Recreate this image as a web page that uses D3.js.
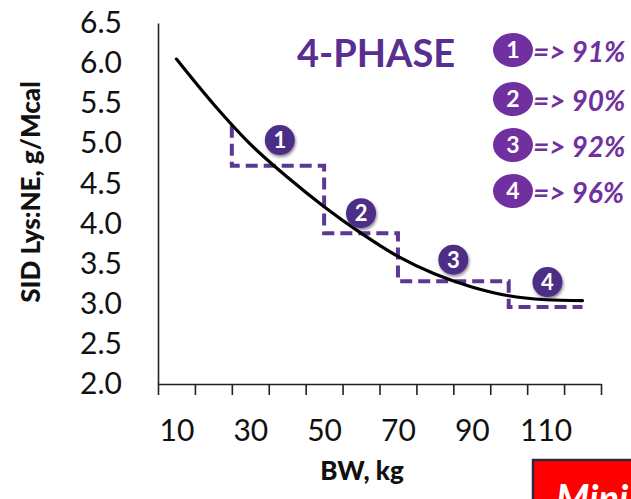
<!DOCTYPE html>
<html>
<head>
<meta charset="utf-8">
<script src="https://cdn.jsdelivr.net/npm/d3@7"></script>
<style>
  body { margin: 0; background: #fff; }
  svg { display: block; font-family: Lato, "Open Sans", sans-serif; }
</style>
</head>
<body>
<div id="plot"></div>
<script>
// body weight (kg) and SID Lys:NE requirement curve
const bwKg = [10, 20, 30, 40, 50, 60, 70, 80, 90, 100, 110, 120];
const sidLys = [6.05, 5.49, 4.99, 4.58, 4.21, 3.88, 3.59, 3.37, 3.21, 3.10, 3.05, 3.04];

// 4-phase feeding program
const phaseStart = [25, 50, 70, 100];
const phaseEnd = [50, 70, 100, 120];
const phaseLevel = [4.72, 3.88, 3.28, 2.96];
const stepTop = 5.22;
const phaseBadgeX = [38, 60, 85, 110.5];
const phaseBadgeY = [5.04, 4.13, 3.55, 3.27];
const phaseEfficiency = [91, 90, 92, 96];

// axes
const xTicks = [5, 15, 25, 35, 45, 55, 65, 75, 85, 95, 105, 115, 125];
const xLabels = [10, 30, 50, 70, 90, 110];
const yTicks = [2.0, 2.5, 3.0, 3.5, 4.0, 4.5, 5.0, 5.5, 6.0, 6.5];

const W = 631, H = 499;
const purple = '#7030a0';
const darkPurple = '#4e2f86';
const dashPurple = '#5b3891';

const svg = d3.select('#plot')
    .append('svg')
    .attr('width', W)
    .attr('height', H);

const defs = svg.append('defs');
const shadow = defs.append('filter').attr('id', 'shadow')
    .attr('x', '-50%').attr('y', '-50%').attr('width', '200%').attr('height', '200%');
shadow.append('feDropShadow')
    .attr('dx', 1).attr('dy', 2).attr('stdDeviation', 1.5)
    .attr('flood-color', '#000').attr('flood-opacity', 0.45);

const x = d3.scaleLinear().domain([5, 125]).range([158, 601]);
const y = d3.scaleLinear().domain([2, 6.5]).range([384, 23]);

// x axis: ticks only, labels in between
svg.append('g')
    .attr('transform', `translate(0, ${y(2)})`)
    .call(d3.axisBottom(x).tickValues(xTicks).tickSize(11).tickSizeOuter(0).tickFormat(''))
    .call(g => g.select('.domain').attr('stroke', '#222').attr('stroke-width', 1.6))
    .call(g => g.selectAll('.tick line').attr('stroke', '#222').attr('stroke-width', 1.6));

svg.append('g')
    .attr('transform', `translate(0, ${y(2)})`)
    .call(d3.axisBottom(x).tickValues(xLabels).tickSize(0).tickPadding(36).tickFormat(d3.format('d')))
    .call(g => g.select('.domain').remove())
    .call(g => g.selectAll('text')
        .attr('font-family', 'Lato, sans-serif')
        .attr('font-size', 30)
        .attr('fill', '#111'));

// y axis
svg.append('g')
    .attr('transform', `translate(${x(5)}, 0)`)
    .call(d3.axisLeft(y).tickValues(yTicks).tickSize(0).tickPadding(36).tickFormat(d3.format('.1f')))
    .call(g => g.select('.domain').attr('stroke', '#222').attr('stroke-width', 1.6))
    .call(g => g.selectAll('text')
        .attr('font-family', 'Lato, sans-serif')
        .attr('font-size', 30)
        .attr('fill', '#111'));

// axis titles
svg.append('text')
    .attr('x', 362)
    .attr('y', 480)
    .attr('text-anchor', 'middle')
    .attr('font-weight', 900)
    .attr('font-size', 26)
    .attr('fill', '#111')
    .text('BW, kg');

svg.append('text')
    .attr('transform', 'translate(40, 192) rotate(-90)')
    .attr('text-anchor', 'middle')
    .attr('font-weight', 900)
    .attr('font-size', 26)
    .attr('fill', '#111')
    .text('SID Lys:NE, g/Mcal');

// step line of the phase program
const stepPoints = [[phaseStart[0], stepTop]];
phaseStart.forEach((s, i) => {
    stepPoints.push([s, phaseLevel[i]]);
    stepPoints.push([phaseEnd[i], phaseLevel[i]]);
});

svg.append('path')
    .datum(stepPoints)
    .attr('fill', 'none')
    .attr('stroke', dashPurple)
    .attr('stroke-width', 4)
    .attr('stroke-dasharray', '12,6')
    .attr('d', d3.line().x(d => x(d[0])).y(d => y(d[1])));

// requirement curve
svg.append('path')
    .datum(bwKg.map((d, i) => [d, sidLys[i]]))
    .attr('fill', 'none')
    .attr('stroke', '#000')
    .attr('stroke-width', 3.2)
    .attr('stroke-linecap', 'round')
    .attr('d', d3.line().x(d => x(d[0])).y(d => y(d[1])).curve(d3.curveCatmullRom));

// phase badges on the chart
const badges = svg.append('g')
    .selectAll('g')
    .data(phaseBadgeX)
    .join('g')
    .attr('transform', (d, i) => `translate(${x(d)}, ${y(phaseBadgeY[i])})`);

badges.append('circle')
    .attr('r', 15)
    .attr('fill', darkPurple)
    .attr('filter', 'url(#shadow)');

badges.append('text')
    .attr('text-anchor', 'middle')
    .attr('dy', '0.36em')
    .attr('font-weight', 'bold')
    .attr('font-size', 22)
    .attr('fill', '#fff')
    .text((d, i) => i + 1);

// title
svg.append('text')
    .attr('x', 297)
    .attr('y', 67)
    .attr('font-weight', 'bold')
    .attr('font-size', 38)
    .attr('fill', '#5a2d91')
    .text('4-PHASE');

// efficiency legend
const legendY = [50, 99, 145, 191];
const legend = svg.append('g')
    .selectAll('g')
    .data(phaseEfficiency)
    .join('g')
    .attr('transform', (d, i) => `translate(513, ${legendY[i]})`);

legend.append('ellipse')
    .attr('rx', 20)
    .attr('ry', 17)
    .attr('fill', purple);

legend.append('text')
    .attr('text-anchor', 'middle')
    .attr('dy', '0.36em')
    .attr('font-weight', 'bold')
    .attr('font-size', 23)
    .attr('fill', '#fff')
    .text((d, i) => i + 1);

legend.append('text')
    .attr('x', 20)
    .attr('y', 12)
    .attr('font-weight', 'bold')
    .attr('font-style', 'italic')
    .attr('font-size', 28)
    .attr('fill', purple)
    .text(d => `=> ${d}%`);

// red box peeking in at the bottom right
svg.append('rect')
    .attr('x', 533)
    .attr('y', 460)
    .attr('width', 120)
    .attr('height', 60)
    .attr('fill', '#ff0000')
    .attr('stroke', '#2a2a44')
    .attr('stroke-width', 2.5);

svg.append('text')
    .attr('x', 556)
    .attr('y', 512)
    .attr('font-weight', 'bold')
    .attr('font-style', 'italic')
    .attr('font-size', 38)
    .attr('fill', '#fff')
    .text('Mini');
</script>
</body>
</html>
